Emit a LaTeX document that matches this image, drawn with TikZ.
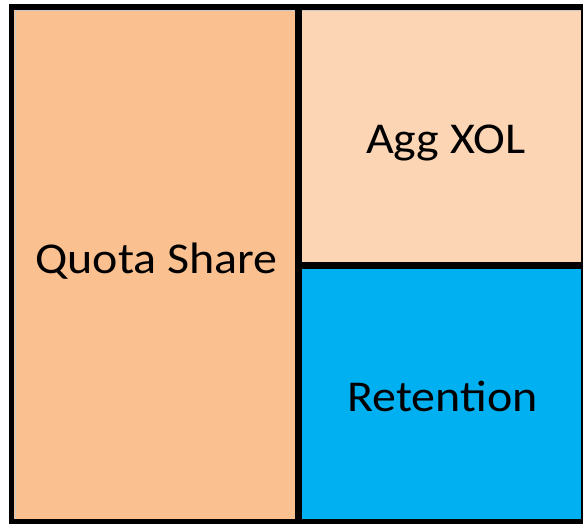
\documentclass[tikz,border=0pt]{standalone}
\usepackage{fontspec}
\setmainfont{Carlito}
\definecolor{quotafill}{HTML}{FAC090}
\definecolor{aggfill}{HTML}{FCD5B5}
\definecolor{retfill}{HTML}{00B0F0}
\definecolor{gridgray}{HTML}{C8C8C8}
\tikzset{
  label text/.style={anchor=base, inner sep=0pt, font=\fontsize{44}{50}\selectfont, xscale=1.09, transform shape},
  frame line/.style={draw=black, line width=5.5pt}
}
\begin{document}
\begin{tikzpicture}[x=1pt, y=-1pt]
    \useasboundingbox (0,0) rectangle (583,526);
    \coordinate (tl) at (11.5,7);
    \coordinate (br) at (584,521.5);
    \coordinate (midtop) at (298.5,7);
    \coordinate (midbot) at (298.5,521.5);
    \coordinate (splitl) at (298.5,265.5);
    \coordinate (splitr) at (584,265.5);
    \fill[quotafill] (tl) rectangle (midbot);
    \fill[aggfill] (midtop) rectangle (splitr);
    \fill[retfill] (splitl) rectangle (br);
    \draw[gridgray, line width=1pt] (15,519) |- (583,10.5);
    \draw[frame line] (tl) rectangle (br);
    \draw[frame line, line width=6.5pt] (midtop) -- (midbot);
    \draw[frame line, line width=7pt] (splitl) -- (splitr);
    \node[label text] (quota) at (156.5,274) {Quota Share};
    \node[label text] (agg) at (446,154) {Agg XOL};
    \node[label text] (ret) at (442.5,411) {Retention};
\end{tikzpicture}
\end{document}
